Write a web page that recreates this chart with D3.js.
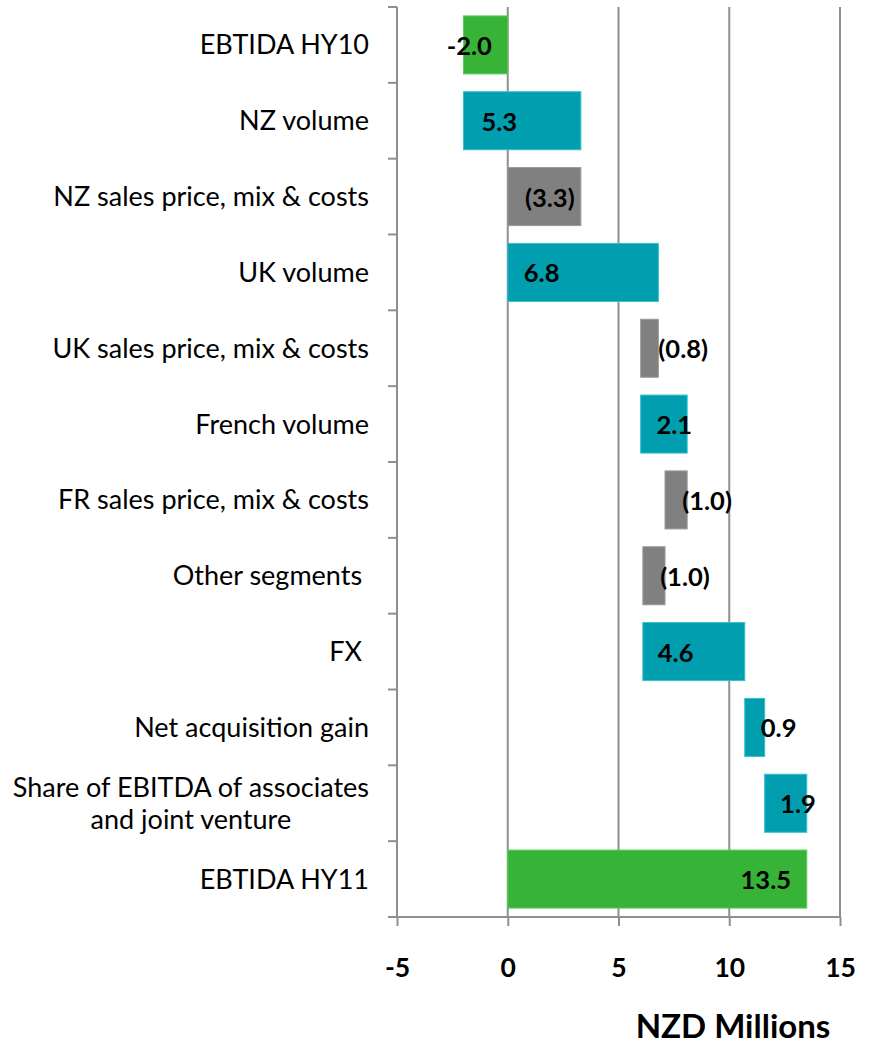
<!DOCTYPE html>
<html>
<head>
<meta charset="utf-8">
<script src="https://cdn.jsdelivr.net/npm/d3@7"></script>
<style>
  html, body { margin: 0; padding: 0; background: #fff; }
  svg { display: block; }
  text { font-family: Lato, "Open Sans", sans-serif; fill: #000; }
</style>
</head>
<body>
<svg id="chart" width="871" height="1045"></svg>
<script>
// ---- data ----
const categories = [
  "EBTIDA HY10",
  "NZ volume",
  "NZ sales price, mix & costs",
  "UK volume",
  "UK sales price, mix & costs",
  "French volume",
  "FR sales price, mix & costs",
  "Other segments ",
  "FX ",
  "Net acquisition gain",
  "Share of EBITDA of associates\nand joint venture",
  "EBTIDA HY11"
];
// change of each step (totals are given as their level)
const values = [-2.0, 5.3, -3.3, 6.8, -0.8, 2.1, -1.0, -1.0, 4.6, 0.9, 1.9, 13.5];
const kinds = ["total", "up", "down", "up", "down", "up", "down", "down", "up", "up", "up", "total"];
const valueLabels = ["-2.0", "5.3", "(3.3)", "6.8", "(0.8)", "2.1", "(1.0)", "(1.0)", "4.6", "0.9", "1.9", "13.5"];
// where each data label sits, in NZD millions
const labelAnchors = [-1.74, -0.38, 1.9, 1.53, 7.92, 7.52, 9.0, 8.0, 7.58, 12.23, 13.1, 11.65];
const xTicks = [-5, 0, 5, 10, 15];
const xTitle = "NZD Millions";

// ---- build waterfall segments ----
let running = 0;
const rows = categories.map((c, i) => {
  let start, end;
  if (kinds[i] === "total") { start = 0; end = values[i]; running = values[i]; }
  else { start = running; end = running + values[i]; running = end; }
  return { cat: c, start, end, kind: kinds[i], label: valueLabels[i], anchor: labelAnchors[i] };
});

const colors = { total: "#37b337", up: "#009eae", down: "#808080" };
const strokes = { total: "#5ccc5c", up: "#33c0cc", down: "#9a9a9a" };
const axisColor = "#8f8f8f";

const svg = d3.select("#chart");
const x = d3.scaleLinear().domain([-5, 15]).range([397, 840]);
const y = d3.scaleBand().domain(categories).range([7, 917]).paddingInner(0.235).paddingOuter(0.1175);
const rowStep = (917 - 7) / categories.length;

// gridlines
svg.append("g").selectAll("line").data(xTicks.filter(t => t !== -5)).join("line")
  .attr("x1", d => x(d)).attr("x2", d => x(d))
  .attr("y1", 7).attr("y2", 917)
  .attr("stroke", axisColor).attr("stroke-width", 2);

// bars
svg.append("g").selectAll("rect").data(rows).join("rect")
  .attr("x", d => x(Math.min(d.start, d.end)))
  .attr("width", d => Math.abs(x(d.end) - x(d.start)))
  .attr("y", d => y(d.cat))
  .attr("height", y.bandwidth())
  .attr("fill", d => colors[d.kind])
  .attr("stroke", d => strokes[d.kind])
  .attr("stroke-width", 1);

// y axis line + ticks at category boundaries
svg.append("line").attr("x1", 397).attr("x2", 397).attr("y1", 7).attr("y2", 918)
  .attr("stroke", axisColor).attr("stroke-width", 2);
svg.append("g").selectAll("line").data(d3.range(categories.length + 1)).join("line")
  .attr("x1", 388).attr("x2", 397)
  .attr("y1", i => 7 + i * rowStep).attr("y2", i => 7 + i * rowStep)
  .attr("stroke", axisColor).attr("stroke-width", 2);

// x axis
const xAxis = svg.append("g").attr("transform", "translate(0,917)")
  .call(d3.axisBottom(x).tickValues(xTicks).tickSize(9).tickFormat(d => String(d)));
xAxis.select(".domain").attr("stroke", axisColor).attr("stroke-width", 2).attr("d", "M388,0H840");
xAxis.selectAll(".tick line").attr("stroke", axisColor).attr("stroke-width", 2);
xAxis.selectAll(".tick text")
  .attr("fill", "#000")
  .style("font-family", "Lato, 'Open Sans', sans-serif")
  .style("font-size", "26.5px").style("font-weight", "bold")
  .attr("y", 51).attr("dy", "0.35em");

// category labels
const catG = svg.append("g");
rows.forEach(r => {
  const lines = r.cat.split("\n");
  const cy = y(r.cat) + y.bandwidth() / 2;
  const t = catG.append("text")
    .attr("text-anchor", lines.length > 1 ? "middle" : "end")
    .attr("xml:space", "preserve")
    .style("white-space", "pre")
    .style("font-size", "27px");
  if (lines.length > 1) {
    const spans = lines.map((ln, k) => t.append("tspan")
        .attr("y", cy + (k - (lines.length - 1) / 2) * 32)
        .attr("dy", "0.35em").text(ln));
    const maxW = d3.max(spans, s => s.node().getComputedTextLength());
    spans.forEach(s => s.attr("x", 369 - maxW / 2));
  } else {
    t.attr("x", 369).attr("y", cy).attr("dy", "0.35em").text(r.cat);
  }
});

// data labels
svg.append("g").selectAll("text").data(rows).join("text")
  .attr("x", d => x(d.anchor))
  .attr("y", d => y(d.cat) + y.bandwidth() / 2 + 1)
  .attr("dy", "0.35em")
  .attr("text-anchor", "middle")
  .style("font-size", "25.5px").style("font-weight", "bold")
  .text(d => d.label);

// axis title
svg.append("text").attr("x", 733).attr("y", 1038).attr("text-anchor", "middle")
  .style("font-size", "33px").style("font-weight", "bold")
  .text(xTitle);
</script>
</body>
</html>
